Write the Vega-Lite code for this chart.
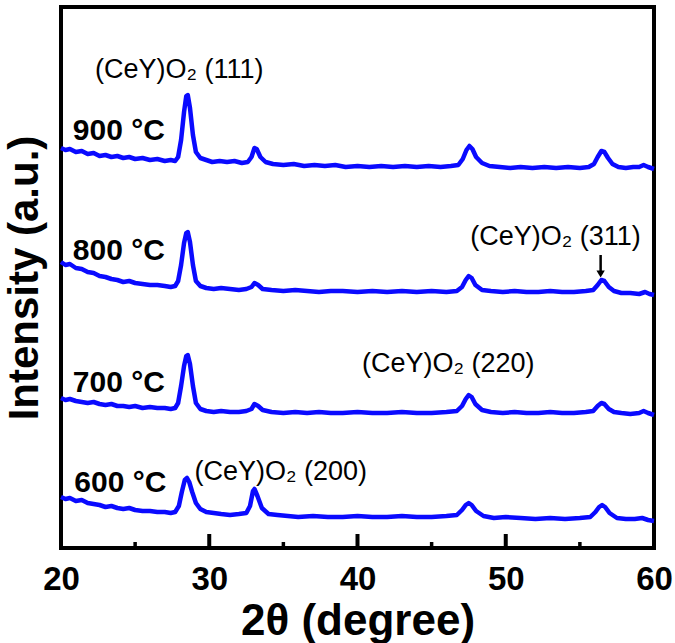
{
  "$schema": "https://vega.github.io/schema/vega-lite/v6.json",
  "width": 593,
  "height": 541,
  "autosize": "none",
  "padding": {"left": 61, "top": 7, "right": 21, "bottom": 95},
  "background": "white",
  "config": {
    "view": {"stroke": "black", "strokeWidth": 4},
    "font": "Liberation Sans"
  },
  "datasets": {
    "curves": [
      {"t":"900","x":20,"y":400},{"t":"900","x":20.3,"y":398},{"t":"900","x":20.6,"y":399},{"t":"900","x":21,"y":396},{"t":"900","x":21.4,"y":397},{"t":"900","x":21.8,"y":394},{"t":"900","x":22.2,"y":395},{"t":"900","x":22.6,"y":392},{"t":"900","x":23,"y":393},{"t":"900","x":23.4,"y":391},{"t":"900","x":23.8,"y":392},{"t":"900","x":24.2,"y":390},{"t":"900","x":24.6,"y":391},{"t":"900","x":25,"y":389},{"t":"900","x":25.5,"y":390},{"t":"900","x":26,"y":388},{"t":"900","x":26.5,"y":389},{"t":"900","x":27,"y":387},{"t":"900","x":27.4,"y":388},{"t":"900","x":27.7,"y":387},{"t":"900","x":27.9,"y":391},{"t":"900","x":28.1,"y":408},{"t":"900","x":28.3,"y":436},{"t":"900","x":28.45,"y":452},{"t":"900","x":28.55,"y":453},{"t":"900","x":28.7,"y":440},{"t":"900","x":28.9,"y":413},{"t":"900","x":29.1,"y":396},{"t":"900","x":29.4,"y":390},{"t":"900","x":29.8,"y":388},{"t":"900","x":30.2,"y":386},{"t":"900","x":30.7,"y":387},{"t":"900","x":31.2,"y":386},{"t":"900","x":31.7,"y":387},{"t":"900","x":32.2,"y":385},{"t":"900","x":32.6,"y":386},{"t":"900","x":32.85,"y":391},{"t":"900","x":33.05,"y":400},{"t":"900","x":33.2,"y":399},{"t":"900","x":33.45,"y":391},{"t":"900","x":33.8,"y":386},{"t":"900","x":34.3,"y":384},{"t":"900","x":35,"y":383},{"t":"900","x":35.7,"y":384},{"t":"900","x":36.4,"y":382},{"t":"900","x":37.1,"y":383},{"t":"900","x":37.8,"y":382},{"t":"900","x":38.5,"y":383},{"t":"900","x":39.2,"y":381},{"t":"900","x":40,"y":382},{"t":"900","x":40.8,"y":381},{"t":"900","x":41.6,"y":382},{"t":"900","x":42.4,"y":381},{"t":"900","x":43.2,"y":382},{"t":"900","x":44,"y":381},{"t":"900","x":44.8,"y":382},{"t":"900","x":45.6,"y":381},{"t":"900","x":46.3,"y":382},{"t":"900","x":46.8,"y":383},{"t":"900","x":47.1,"y":389},{"t":"900","x":47.35,"y":398},{"t":"900","x":47.55,"y":402},{"t":"900","x":47.75,"y":399},{"t":"900","x":48,"y":391},{"t":"900","x":48.4,"y":385},{"t":"900","x":48.9,"y":382},{"t":"900","x":49.6,"y":381},{"t":"900","x":50.3,"y":380},{"t":"900","x":51,"y":381},{"t":"900","x":51.8,"y":380},{"t":"900","x":52.6,"y":381},{"t":"900","x":53.4,"y":380},{"t":"900","x":54.2,"y":381},{"t":"900","x":55,"y":380},{"t":"900","x":55.6,"y":381},{"t":"900","x":55.95,"y":384},{"t":"900","x":56.2,"y":391},{"t":"900","x":56.45,"y":397},{"t":"900","x":56.65,"y":396},{"t":"900","x":56.9,"y":390},{"t":"900","x":57.2,"y":384},{"t":"900","x":57.6,"y":381},{"t":"900","x":58.1,"y":380},{"t":"900","x":58.6,"y":381},{"t":"900","x":59,"y":381},{"t":"900","x":59.3,"y":383},{"t":"900","x":59.6,"y":381},{"t":"900","x":60,"y":379},

      {"t":"800","x":20,"y":286},{"t":"800","x":20.3,"y":283},{"t":"800","x":20.6,"y":284},{"t":"800","x":21,"y":280},{"t":"800","x":21.4,"y":279},{"t":"800","x":21.8,"y":276},{"t":"800","x":22.2,"y":275},{"t":"800","x":22.6,"y":272},{"t":"800","x":23,"y":271},{"t":"800","x":23.4,"y":269},{"t":"800","x":23.8,"y":268},{"t":"800","x":24.2,"y":266},{"t":"800","x":24.6,"y":267},{"t":"800","x":25,"y":265},{"t":"800","x":25.5,"y":264},{"t":"800","x":26,"y":263},{"t":"800","x":26.5,"y":263},{"t":"800","x":27,"y":262},{"t":"800","x":27.4,"y":261},{"t":"800","x":27.7,"y":262},{"t":"800","x":27.9,"y":267},{"t":"800","x":28.1,"y":283},{"t":"800","x":28.3,"y":305},{"t":"800","x":28.45,"y":315},{"t":"800","x":28.55,"y":316},{"t":"800","x":28.7,"y":306},{"t":"800","x":28.9,"y":283},{"t":"800","x":29.1,"y":267},{"t":"800","x":29.4,"y":262},{"t":"800","x":29.8,"y":260},{"t":"800","x":30.3,"y":259},{"t":"800","x":30.8,"y":260},{"t":"800","x":31.4,"y":259},{"t":"800","x":32,"y":258},{"t":"800","x":32.5,"y":259},{"t":"800","x":32.85,"y":261},{"t":"800","x":33.05,"y":265},{"t":"800","x":33.3,"y":263},{"t":"800","x":33.6,"y":259},{"t":"800","x":34.2,"y":258},{"t":"800","x":35,"y":257},{"t":"800","x":35.8,"y":258},{"t":"800","x":36.6,"y":257},{"t":"800","x":37.4,"y":256},{"t":"800","x":38.2,"y":257},{"t":"800","x":39,"y":257},{"t":"800","x":40,"y":256},{"t":"800","x":41,"y":257},{"t":"800","x":42,"y":256},{"t":"800","x":43,"y":257},{"t":"800","x":44,"y":256},{"t":"800","x":45,"y":257},{"t":"800","x":46,"y":256},{"t":"800","x":46.7,"y":257},{"t":"800","x":47.05,"y":261},{"t":"800","x":47.3,"y":268},{"t":"800","x":47.5,"y":272},{"t":"800","x":47.7,"y":270},{"t":"800","x":47.95,"y":263},{"t":"800","x":48.4,"y":258},{"t":"800","x":49,"y":257},{"t":"800","x":49.8,"y":256},{"t":"800","x":50.6,"y":257},{"t":"800","x":51.4,"y":256},{"t":"800","x":52.2,"y":256},{"t":"800","x":53,"y":257},{"t":"800","x":53.8,"y":256},{"t":"800","x":54.6,"y":256},{"t":"800","x":55.4,"y":257},{"t":"800","x":55.9,"y":258},{"t":"800","x":56.2,"y":263},{"t":"800","x":56.45,"y":268},{"t":"800","x":56.65,"y":267},{"t":"800","x":56.95,"y":261},{"t":"800","x":57.3,"y":257},{"t":"800","x":57.8,"y":255},{"t":"800","x":58.4,"y":255},{"t":"800","x":59,"y":254},{"t":"800","x":59.4,"y":256},{"t":"800","x":59.7,"y":254},{"t":"800","x":60,"y":253},

      {"t":"700","x":20,"y":150},{"t":"700","x":20.3,"y":148},{"t":"700","x":20.6,"y":149},{"t":"700","x":21,"y":147},{"t":"700","x":21.4,"y":146},{"t":"700","x":21.8,"y":145},{"t":"700","x":22.2,"y":146},{"t":"700","x":22.6,"y":144},{"t":"700","x":23,"y":143},{"t":"700","x":23.4,"y":144},{"t":"700","x":23.8,"y":142},{"t":"700","x":24.2,"y":142},{"t":"700","x":24.6,"y":141},{"t":"700","x":25,"y":142},{"t":"700","x":25.5,"y":140},{"t":"700","x":26,"y":141},{"t":"700","x":26.5,"y":140},{"t":"700","x":27,"y":140},{"t":"700","x":27.4,"y":139},{"t":"700","x":27.7,"y":140},{"t":"700","x":27.9,"y":145},{"t":"700","x":28.1,"y":162},{"t":"700","x":28.3,"y":182},{"t":"700","x":28.45,"y":192},{"t":"700","x":28.55,"y":193},{"t":"700","x":28.7,"y":184},{"t":"700","x":28.9,"y":162},{"t":"700","x":29.1,"y":145},{"t":"700","x":29.4,"y":139},{"t":"700","x":29.8,"y":137},{"t":"700","x":30.3,"y":136},{"t":"700","x":30.8,"y":137},{"t":"700","x":31.4,"y":136},{"t":"700","x":32,"y":136},{"t":"700","x":32.5,"y":137},{"t":"700","x":32.85,"y":139},{"t":"700","x":33.05,"y":144},{"t":"700","x":33.3,"y":142},{"t":"700","x":33.6,"y":138},{"t":"700","x":34.2,"y":136},{"t":"700","x":35,"y":135},{"t":"700","x":35.8,"y":136},{"t":"700","x":36.6,"y":135},{"t":"700","x":37.4,"y":136},{"t":"700","x":38.2,"y":135},{"t":"700","x":39,"y":135},{"t":"700","x":40,"y":136},{"t":"700","x":41,"y":135},{"t":"700","x":42,"y":135},{"t":"700","x":43,"y":136},{"t":"700","x":44,"y":135},{"t":"700","x":45,"y":135},{"t":"700","x":46,"y":136},{"t":"700","x":46.7,"y":137},{"t":"700","x":47.05,"y":142},{"t":"700","x":47.3,"y":149},{"t":"700","x":47.5,"y":153},{"t":"700","x":47.7,"y":151},{"t":"700","x":47.95,"y":144},{"t":"700","x":48.4,"y":138},{"t":"700","x":49,"y":136},{"t":"700","x":49.8,"y":135},{"t":"700","x":50.6,"y":136},{"t":"700","x":51.4,"y":135},{"t":"700","x":52.2,"y":135},{"t":"700","x":53,"y":136},{"t":"700","x":53.8,"y":135},{"t":"700","x":54.6,"y":135},{"t":"700","x":55.4,"y":136},{"t":"700","x":55.9,"y":137},{"t":"700","x":56.2,"y":142},{"t":"700","x":56.45,"y":145},{"t":"700","x":56.65,"y":144},{"t":"700","x":56.95,"y":139},{"t":"700","x":57.3,"y":136},{"t":"700","x":57.8,"y":135},{"t":"700","x":58.4,"y":134},{"t":"700","x":59,"y":135},{"t":"700","x":59.3,"y":137},{"t":"700","x":59.6,"y":135},{"t":"700","x":60,"y":133},

      {"t":"600","x":20,"y":51},{"t":"600","x":20.3,"y":49},{"t":"600","x":20.6,"y":50},{"t":"600","x":21,"y":47},{"t":"600","x":21.4,"y":48},{"t":"600","x":21.8,"y":45},{"t":"600","x":22.2,"y":44},{"t":"600","x":22.6,"y":43},{"t":"600","x":23,"y":41},{"t":"600","x":23.4,"y":42},{"t":"600","x":23.8,"y":40},{"t":"600","x":24.2,"y":39},{"t":"600","x":24.6,"y":40},{"t":"600","x":25,"y":38},{"t":"600","x":25.5,"y":37},{"t":"600","x":26,"y":37},{"t":"600","x":26.5,"y":36},{"t":"600","x":27,"y":36},{"t":"600","x":27.4,"y":35},{"t":"600","x":27.7,"y":36},{"t":"600","x":27.95,"y":42},{"t":"600","x":28.15,"y":56},{"t":"600","x":28.35,"y":68},{"t":"600","x":28.5,"y":70},{"t":"600","x":28.65,"y":66},{"t":"600","x":28.85,"y":56},{"t":"600","x":29.1,"y":45},{"t":"600","x":29.4,"y":39},{"t":"600","x":29.8,"y":36},{"t":"600","x":30.3,"y":35},{"t":"600","x":30.8,"y":34},{"t":"600","x":31.4,"y":33},{"t":"600","x":32,"y":34},{"t":"600","x":32.5,"y":35},{"t":"600","x":32.75,"y":42},{"t":"600","x":32.95,"y":57},{"t":"600","x":33.05,"y":59},{"t":"600","x":33.25,"y":52},{"t":"600","x":33.55,"y":40},{"t":"600","x":34,"y":34},{"t":"600","x":34.6,"y":33},{"t":"600","x":35.3,"y":32},{"t":"600","x":36,"y":31},{"t":"600","x":37,"y":32},{"t":"600","x":38,"y":31},{"t":"600","x":39,"y":31},{"t":"600","x":40,"y":32},{"t":"600","x":41,"y":31},{"t":"600","x":42,"y":31},{"t":"600","x":43,"y":32},{"t":"600","x":44,"y":31},{"t":"600","x":45,"y":31},{"t":"600","x":46,"y":32},{"t":"600","x":46.7,"y":33},{"t":"600","x":47.05,"y":38},{"t":"600","x":47.3,"y":43},{"t":"600","x":47.5,"y":45},{"t":"600","x":47.7,"y":43},{"t":"600","x":48,"y":37},{"t":"600","x":48.5,"y":32},{"t":"600","x":49.2,"y":30},{"t":"600","x":50,"y":31},{"t":"600","x":51,"y":30},{"t":"600","x":52,"y":29},{"t":"600","x":53,"y":30},{"t":"600","x":54,"y":29},{"t":"600","x":55,"y":30},{"t":"600","x":55.7,"y":31},{"t":"600","x":56.05,"y":36},{"t":"600","x":56.3,"y":41},{"t":"600","x":56.5,"y":43},{"t":"600","x":56.7,"y":41},{"t":"600","x":57,"y":35},{"t":"600","x":57.5,"y":30},{"t":"600","x":58.1,"y":29},{"t":"600","x":58.7,"y":29},{"t":"600","x":59.2,"y":30},{"t":"600","x":59.6,"y":28},{"t":"600","x":60,"y":27}
    ],
    "temps": [
      {"label": "900 °C", "x": 20.8, "y": 408},
      {"label": "800 °C", "x": 20.8, "y": 288},
      {"label": "700 °C", "x": 20.8, "y": 156},
      {"label": "600 °C", "x": 20.9, "y": 56}
    ],
    "phases": [
      {"label": "(CeY)O₂ (111)", "x": 22.3, "y": 470},
      {"label": "(CeY)O₂ (311)", "x": 47.6, "y": 303},
      {"label": "(CeY)O₂ (220)", "x": 40.3, "y": 176},
      {"label": "(CeY)O₂ (200)", "x": 29.0, "y": 68}
    ]
  },
  "layer": [
    {
      "data": {"name": "curves"},
      "mark": {"type": "line", "color": "#0a0aff", "strokeWidth": 4.5, "strokeJoin": "round"},
      "encoding": {
        "x": {
          "field": "x", "type": "quantitative",
          "scale": {"domain": [20, 60], "nice": false, "zero": false},
          "axis": {
            "title": "2θ (degree)", "values": [20, 30, 40, 50, 60], "grid": false,
            "ticks": false, "domain": false,
            "labelFont": "Liberation Sans", "labelFontSize": 33, "labelFontWeight": "bold", "labelColor": "black",
            "labelPadding": 15, "labelFlush": false,
            "titleFont": "Liberation Sans", "titleFontSize": 44, "titleFontWeight": "bold", "titleColor": "black",
            "titlePadding": 3
          }
        },
        "y": {
          "field": "y", "type": "quantitative",
          "scale": {"domain": [0, 541], "nice": false, "zero": false},
          "axis": {
            "title": "Intensity (a.u.)", "labels": false, "ticks": false, "domain": false, "grid": false,
            "titleFont": "Liberation Sans", "titleFontSize": 42, "titleFontWeight": "bold", "titleColor": "black",
            "titlePadding": 15
          }
        },
        "detail": {"field": "t", "type": "nominal"}
      }
    },
    {
      "data": {"values": [{"x": 30}, {"x": 40}, {"x": 50}]},
      "mark": {"type": "rule", "color": "black", "strokeWidth": 4},
      "encoding": {
        "x": {"field": "x", "type": "quantitative"},
        "y": {"datum": 0},
        "y2": {"datum": 14}
      }
    },
    {
      "data": {"values": [{"x": 25}, {"x": 35}, {"x": 45}, {"x": 55}]},
      "mark": {"type": "rule", "color": "black", "strokeWidth": 3.5},
      "encoding": {
        "x": {"field": "x", "type": "quantitative"},
        "y": {"datum": 0},
        "y2": {"datum": 6}
      }
    },
    {
      "data": {"name": "temps"},
      "mark": {"type": "text", "align": "left", "baseline": "alphabetic", "font": "Liberation Sans", "fontSize": 30, "fontWeight": "bold", "color": "black"},
      "encoding": {
        "x": {"field": "x", "type": "quantitative"},
        "y": {"field": "y", "type": "quantitative"},
        "text": {"field": "label"}
      }
    },
    {
      "data": {"name": "phases"},
      "mark": {"type": "text", "align": "left", "baseline": "alphabetic", "font": "Liberation Sans", "fontSize": 27, "color": "black"},
      "encoding": {
        "x": {"field": "x", "type": "quantitative"},
        "y": {"field": "y", "type": "quantitative"},
        "text": {"field": "label"}
      }
    },
    {
      "data": {"values": [{"x": 56.4}]},
      "mark": {"type": "rule", "color": "black", "strokeWidth": 2.5},
      "encoding": {
        "x": {"field": "x", "type": "quantitative"},
        "y": {"datum": 293},
        "y2": {"datum": 276}
      }
    },
    {
      "data": {"values": [{"x": 56.4}]},
      "mark": {"type": "point", "shape": "triangle-down", "filled": true, "color": "black", "size": 70, "opacity": 1},
      "encoding": {
        "x": {"field": "x", "type": "quantitative"},
        "y": {"datum": 274}
      }
    }
  ]
}
